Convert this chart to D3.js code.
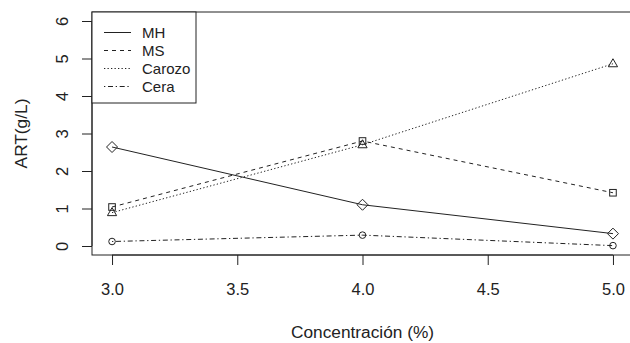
<!DOCTYPE html>
<html lang="es">
<head>
<meta charset="UTF-8">
<title>ART vs Concentración</title>
<script src="https://d3js.org/d3.v7.min.js"></script>
<style>
    body { margin: 0; padding: 0; background: #fff; overflow: hidden; }
    svg { display: block; }
    text { font-family: "Liberation Sans", Arial, sans-serif; fill: #222; }
</style>
</head>
<body>
<svg id="chart" width="630" height="343"></svg>
<script>
// data
var concentracion = [3.0, 4.0, 5.0];
var seriesNames = ['MH', 'MS', 'Carozo', 'Cera'];
var mh = [2.64, 1.10, 0.33];
var ms = [1.04, 2.80, 1.42];
var carozo = [0.89, 2.70, 4.86];
var cera = [0.12, 0.29, 0.01];
var xTicks = [3.0, 3.5, 4.0, 4.5, 5.0];
var yTicks = [0, 1, 2, 3, 4, 5, 6];

var series = [
    { name: seriesNames[0], values: mh, dash: null, shape: 'diamond' },
    { name: seriesNames[1], values: ms, dash: '4,4', shape: 'square' },
    { name: seriesNames[2], values: carozo, dash: '1.3,2.2', shape: 'triangle' },
    { name: seriesNames[3], values: cera, dash: '1.3,2.7,5,2.7', shape: 'circle' }
];

var svg = d3.select('#chart');
var mLeft = 92, mRight = 633, mTop = 12, mBottom = 255;

// R style: 4% padding on each side of the data range
var x = d3.scaleLinear().domain([2.92, 5.08]).range([mLeft, mRight]);
var y = d3.scaleLinear().domain([-0.24, 6.24]).range([mBottom, mTop]);

// box
svg.append('rect')
    .attr('x', mLeft).attr('y', mTop)
    .attr('width', mRight - mLeft).attr('height', mBottom - mTop)
    .attr('fill', 'none').attr('stroke', '#222').attr('stroke-width', 1);

// x axis
var xAxis = svg.append('g')
    .attr('transform', 'translate(0,' + mBottom + ')')
    .call(d3.axisBottom(x).tickValues(xTicks).tickFormat(d3.format('.1f')).tickSize(10).tickPadding(18));
xAxis.select('.domain').attr('stroke', '#222')
    .attr('d', 'M' + x(3) + ',0H' + x(5));
xAxis.selectAll('.tick line').attr('stroke', '#222');
xAxis.selectAll('.tick text').attr('font-size', 16.5)
    .attr('font-family', '"Liberation Sans", Arial, sans-serif').attr('fill', '#222');

// y axis
var yAxis = svg.append('g')
    .attr('transform', 'translate(' + mLeft + ',0)')
    .call(d3.axisLeft(y).tickValues(yTicks).tickSize(10));
yAxis.select('.domain').attr('stroke', '#222')
    .attr('d', 'M0,' + y(0) + 'V' + y(6));
yAxis.selectAll('.tick line').attr('stroke', '#222');
yAxis.selectAll('.tick text').remove();
yAxis.selectAll('.tick').append('text')
    .attr('transform', 'translate(-24,0) rotate(-90)')
    .attr('text-anchor', 'middle')
    .attr('font-size', 16.5)
    .attr('font-family', '"Liberation Sans", Arial, sans-serif')
    .attr('fill', '#222')
    .text(function(d) { return d; });

// axis titles
svg.append('text')
    .attr('x', (mLeft + mRight) / 2).attr('y', 338)
    .attr('text-anchor', 'middle').attr('font-size', 17.3)
    .text('Concentración (%)');
svg.append('text')
    .attr('transform', 'translate(27,' + ((mTop + mBottom) / 2) + ') rotate(-90)')
    .attr('text-anchor', 'middle').attr('font-size', 17.3)
    .text('ART(g/L)');

var line = d3.line()
    .x(function(d, i) { return x(concentracion[i]); })
    .y(function(d) { return y(d); });

function drawMarker(g, shape, cx, cy) {
    if (shape === 'circle') {
        g.append('circle').attr('cx', cx).attr('cy', cy).attr('r', 3.3);
    } else if (shape === 'square') {
        g.append('rect').attr('x', cx - 3.3).attr('y', cy - 3.3).attr('width', 6.6).attr('height', 6.6);
    } else if (shape === 'diamond') {
        g.append('path').attr('d', 'M' + cx + ',' + (cy - 5.5) + 'L' + (cx + 5.5) + ',' + cy +
            'L' + cx + ',' + (cy + 5.5) + 'L' + (cx - 5.5) + ',' + cy + 'Z');
    } else if (shape === 'triangle') {
        g.append('path').attr('d', 'M' + cx + ',' + (cy - 5) + 'L' + (cx + 4.6) + ',' + (cy + 3) +
            'L' + (cx - 4.6) + ',' + (cy + 3) + 'Z');
    }
}

series.forEach(function(s) {
    svg.append('path')
        .datum(s.values)
        .attr('d', line)
        .attr('fill', 'none')
        .attr('stroke', '#222')
        .attr('stroke-width', 1)
        .attr('stroke-dasharray', s.dash);
    var g = svg.append('g').attr('fill', 'none').attr('stroke', '#222').attr('stroke-width', 1);
    s.values.forEach(function(v, i) {
        drawMarker(g, s.shape, x(concentracion[i]), y(v));
    });
});

// legend
var legend = svg.append('g');
legend.append('rect')
    .attr('x', mLeft).attr('y', mTop)
    .attr('width', 104).attr('height', 91)
    .attr('fill', '#fff').attr('stroke', '#222').attr('stroke-width', 1);
series.forEach(function(s, i) {
    var ly = 32.5 + i * 18;
    legend.append('line')
        .attr('x1', 104).attr('x2', 131)
        .attr('y1', ly).attr('y2', ly)
        .attr('stroke', '#222').attr('stroke-width', 1)
        .attr('stroke-dasharray', s.dash);
    legend.append('text')
        .attr('x', 142).attr('y', ly + 5.5)
        .attr('font-size', 15)
        .text(s.name);
});
</script>
</body>
</html>
